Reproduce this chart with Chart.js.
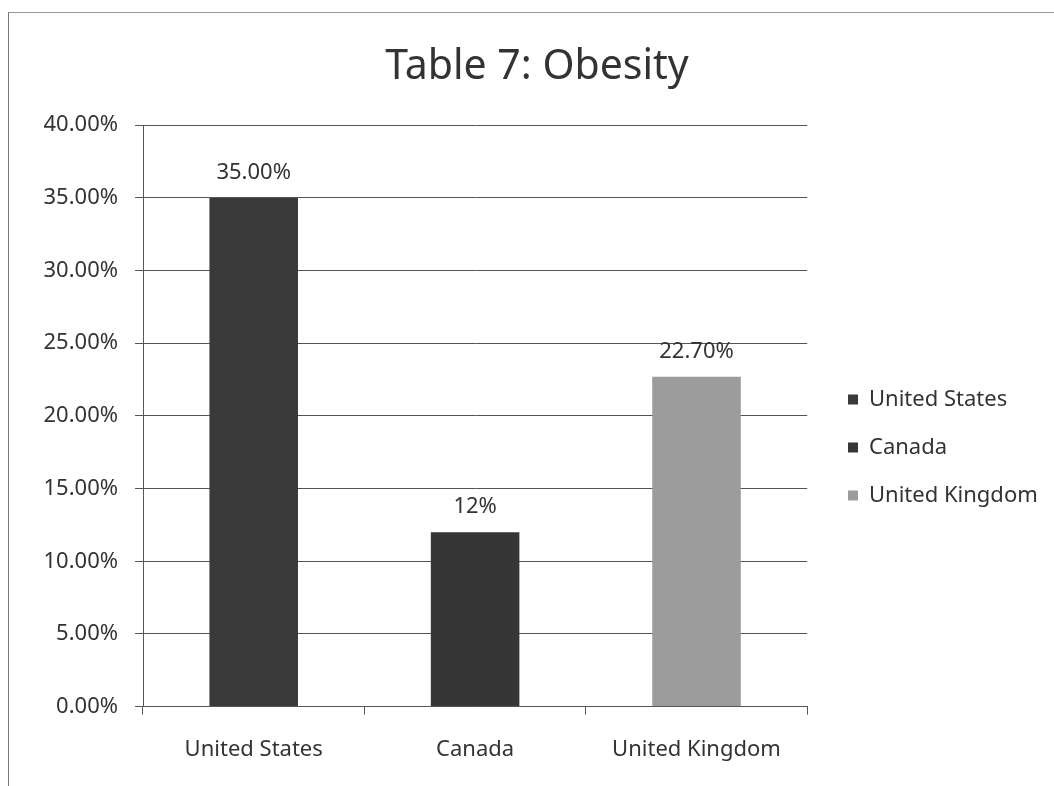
<!DOCTYPE html>
<html>
<head>
<meta charset="utf-8">
<script src="https://cdn.jsdelivr.net/npm/chart.js@4.4.1/dist/chart.umd.min.js"></script>
<style>
  html, body { margin: 0; padding: 0; background: #fff; }
  #frame { position: absolute; left: 8px; top: 12px; width: 1046px; height: 774px;
           border-left: 1px solid #777; border-top: 1px solid #999; }
  #wrap { position: absolute; left: 0; top: 0; width: 1054px; height: 786px; }
</style>
</head>
<body>
<div id="frame"></div>
<div id="wrap"><canvas id="myChart" width="1054" height="786"></canvas></div>
<script>
// ---- data ----
const countries = ['United States', 'Canada', 'United Kingdom'];
const obesity = [35.0, 12.0, 22.7];
const valueLabels = ['35.00%', '12%', '22.70%'];
const barColors = ['#3a3a3a', '#363636', '#9c9c9c'];

const FONT = "'Noto Sans', sans-serif";
const TEXT = '#333';

// labels above the bars
const barLabels = {
  id: 'barLabels',
  afterDatasetsDraw(chart) {
    const ctx = chart.ctx;
    const meta = chart.getDatasetMeta(0);
    ctx.save();
    ctx.font = '22px ' + FONT;
    ctx.fillStyle = TEXT;
    ctx.textAlign = 'center';
    ctx.textBaseline = 'middle';
    meta.data.forEach((bar, i) => {
      ctx.fillText(valueLabels[i], bar.x, bar.y - 25);
    });
    ctx.restore();
  }
};

// nudge the legend and title to where the original has them
const place = {
  id: 'place',
  afterLayout(chart) {
    const lg = chart.legend;
    const w = lg.right - lg.left;
    lg.left = 822; lg.right = 822 + w;
    lg.top += 48; lg.bottom += 48;
    const tb = chart.titleBlock;
    tb.left += 31; tb.right += 0;
  }
};

const ctx = document.getElementById('myChart').getContext('2d');
new Chart(ctx, {
  type: 'bar',
  data: {
    labels: countries,
    datasets: [{
      label: 'Obesity',
      data: obesity,
      backgroundColor: barColors,
      borderWidth: 0,
      barPercentage: 0.4,
      categoryPercentage: 1.0
    }]
  },
  options: {
    responsive: false,
    animation: false,
    layout: { padding: { left: 10, top: 14, right: 21, bottom: 1 } },
    plugins: {
      title: {
        display: true,
        text: 'Table 7: Obesity',
        color: TEXT,
        font: { family: FONT, size: 41, weight: 'normal' },
        padding: { top: 29, bottom: 33 }
      },
      legend: {
        position: 'right',
        labels: {
          color: TEXT,
          font: { family: FONT, size: 22 },
          boxWidth: 10,
          boxHeight: 10,
          padding: 26,
          generateLabels(chart) {
            return countries.map((c, i) => ({
              text: c,
              fillStyle: barColors[i],
              strokeStyle: barColors[i],
              lineWidth: 0,
              fontColor: TEXT,
              index: i
            }));
          }
        }
      },
      tooltip: { enabled: false }
    },
    scales: {
      x: {
        grid: { offset: true, drawOnChartArea: false, color: '#555', tickLength: 8 },
        border: { color: '#555' },
        ticks: { color: TEXT, font: { family: FONT, size: 22 }, padding: 22 }
      },
      y: {
        min: 0,
        max: 40,
        ticks: {
          stepSize: 5,
          color: TEXT,
          font: { family: FONT, size: 22 },
          padding: 17,
          callback: v => v.toFixed(2) + '%'
        },
        grid: { color: '#555', tickLength: 8 },
        border: { color: '#555' },
        afterFit(scale) { scale.width = 133; }
      }
    }
  },
  plugins: [barLabels, place]
});
</script>
</body>
</html>
